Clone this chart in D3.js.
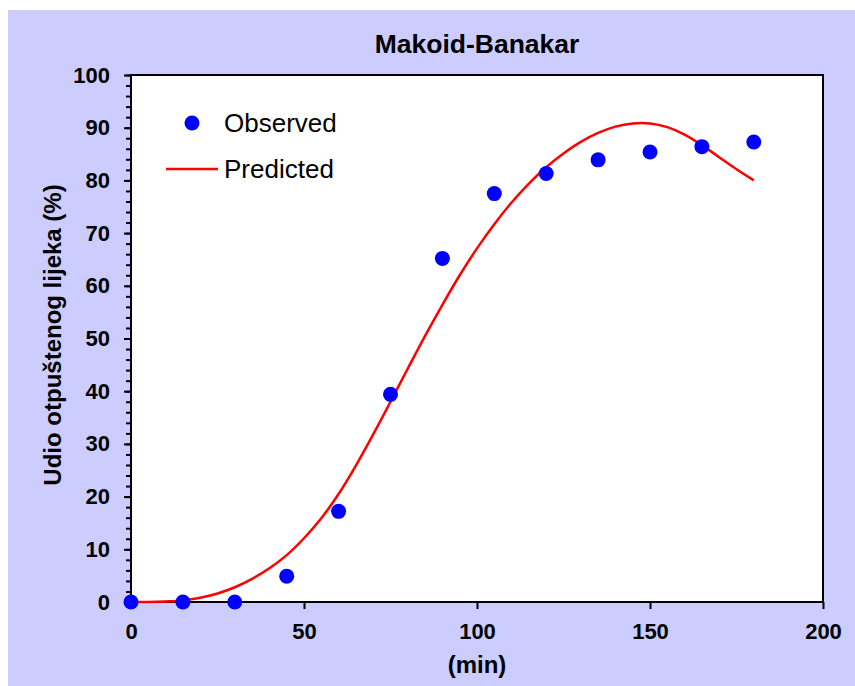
<!DOCTYPE html>
<html>
<head>
<meta charset="utf-8">
<script src="https://cdn.jsdelivr.net/npm/d3@7"></script>
<style>
  html, body { margin: 0; padding: 0; background: #ffffff; }
  svg { display: block; }
  text { font-family: "Liberation Sans", Arial, sans-serif; fill: #000; }
</style>
</head>
<body>
<svg id="chart" width="855" height="686"></svg>
<script>
// ---- data ----
const obsTime = [0, 15, 30, 45, 60, 75, 90, 105, 120, 135, 150, 165, 180];
const obsValue = [0, 0, 0, 4.9, 17.2, 39.4, 65.2, 77.5, 81.3, 83.9, 85.4, 86.4, 87.3];

const predTime = [0, 5, 10, 15, 20, 25, 30, 35, 40, 45, 50, 55, 60, 65, 70, 75, 80, 85, 90,
  95, 100, 105, 110, 115, 120, 125, 130, 135, 140, 145, 150, 155, 160, 165, 170, 175, 180];
const predValue = [0, 0, 0.1, 0.3, 0.8, 1.6, 2.8, 4.4, 6.4, 8.9, 12.1, 15.9, 20.5, 25.9, 31.8,
  38.0, 44.3, 50.5, 56.4, 62.0, 67.1, 71.7, 75.8, 79.4, 82.5, 85.1, 87.3, 89.0, 90.2, 90.8,
  90.8, 90.1, 88.7, 86.7, 84.4, 82.1, 80.0];

const xTicks = [0, 50, 100, 150, 200];
const yTicks = [0, 10, 20, 30, 40, 50, 60, 70, 80, 90, 100];
const yMinorTicks = d3.range(0, 101, 2);

const title = "Makoid-Banakar";
const xTitle = "(min)";
const yTitle = "Udio otpuštenog lijeka (%)";
const legendLabels = ["Observed", "Predicted"];

// ---- layout ----
const W = 855, H = 686;
const plot = { left: 131, right: 823, top: 75, bottom: 602 };

const svg = d3.select("#chart");

svg.append("rect").attr("x", 8).attr("y", 10).attr("width", W - 8).attr("height", H - 10)
  .attr("fill", "#CCCCFF");

svg.append("rect").attr("x", plot.left).attr("y", plot.top)
  .attr("width", plot.right - plot.left).attr("height", plot.bottom - plot.top)
  .attr("fill", "#ffffff");

const x = d3.scaleLinear().domain([0, 200]).range([plot.left, plot.right]);
const y = d3.scaleLinear().domain([0, 100]).range([plot.bottom, plot.top]);

// minor y ticks
const yMinor = svg.append("g").attr("transform", `translate(${plot.left},0)`)
  .call(d3.axisLeft(y).tickValues(yMinorTicks).tickSize(5).tickFormat(""));
yMinor.select(".domain").remove();
yMinor.selectAll("line").attr("stroke", "#000").attr("stroke-width", 2);

// major y axis
const yAxis = svg.append("g").attr("transform", `translate(${plot.left},0)`)
  .call(d3.axisLeft(y).tickValues(yTicks).tickSize(7).tickPadding(14).tickFormat(d3.format("d")));
yAxis.select(".domain").remove();
yAxis.selectAll("line").attr("stroke", "#000").attr("stroke-width", 2);
yAxis.selectAll("text").style("font-size", "22px").style("font-weight", "bold")
  .style("font-family", "'Liberation Sans', Arial, sans-serif").attr("fill", "#000");

// x axis
const xAxis = svg.append("g").attr("transform", `translate(0,${plot.bottom})`)
  .call(d3.axisBottom(x).tickValues(xTicks).tickSize(7).tickPadding(14).tickFormat(d3.format("d")));
xAxis.select(".domain").remove();
xAxis.selectAll("line").attr("stroke", "#000").attr("stroke-width", 2);
xAxis.selectAll("text").style("font-size", "22px").style("font-weight", "bold")
  .style("font-family", "'Liberation Sans', Arial, sans-serif").attr("fill", "#000");

// plot border
svg.append("rect").attr("x", plot.left).attr("y", plot.top)
  .attr("width", plot.right - plot.left).attr("height", plot.bottom - plot.top)
  .attr("fill", "none").attr("stroke", "#000").attr("stroke-width", 2);

// predicted line
const predData = predTime.map((t, i) => [t, predValue[i]]);
svg.append("path").datum(predData)
  .attr("fill", "none").attr("stroke", "#FF0000").attr("stroke-width", 2.5)
  .attr("d", d3.line().x(d => x(d[0])).y(d => y(d[1])).curve(d3.curveCatmullRom));

// observed points
svg.append("g").selectAll("circle").data(obsTime.map((t, i) => [t, obsValue[i]]))
  .join("circle")
  .attr("cx", d => x(d[0])).attr("cy", d => y(d[1])).attr("r", 7.5)
  .attr("fill", "#0000FF");

// title
svg.append("text").attr("x", (plot.left + plot.right) / 2).attr("y", 53)
  .attr("text-anchor", "middle").style("font-size", "26.5px").style("font-weight", "bold")
  .text(title);

// x title
svg.append("text").attr("x", (plot.left + plot.right) / 2).attr("y", 673)
  .attr("text-anchor", "middle").style("font-size", "24px").style("font-weight", "bold")
  .text(xTitle);

// y title
svg.append("text").attr("transform", `translate(61,335) rotate(-90)`)
  .attr("text-anchor", "middle").style("font-size", "24px").style("font-weight", "bold")
  .text(yTitle);

// legend
const lg = svg.append("g");
lg.append("circle").attr("cx", 192).attr("cy", 123).attr("r", 7.5).attr("fill", "#0000FF");
lg.append("text").attr("x", 224).attr("y", 132).style("font-size", "26px").text(legendLabels[0]);
lg.append("line").attr("x1", 166).attr("x2", 218).attr("y1", 169).attr("y2", 169)
  .attr("stroke", "#FF0000").attr("stroke-width", 2.5);
lg.append("text").attr("x", 224).attr("y", 178).style("font-size", "26px").text(legendLabels[1]);
</script>
</body>
</html>
